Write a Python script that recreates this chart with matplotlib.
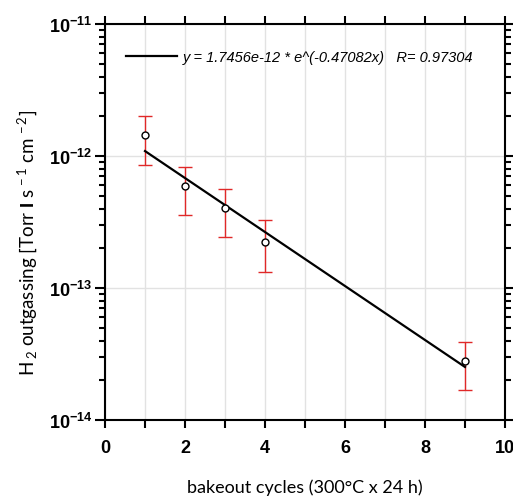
import numpy as np
import matplotlib.pyplot as plt
from matplotlib.ticker import FuncFormatter, LogLocator, MultipleLocator

plt.rcParams['mathtext.fontset'] = 'custom'
plt.rcParams['mathtext.rm'] = 'Lato'
plt.rcParams['mathtext.bf'] = 'Liberation Sans:bold'
plt.rcParams['mathtext.it'] = 'Liberation Sans:italic'

# measured points
cycles = [1, 2, 3, 4, 9]
outgas = [1.44e-12, 5.94e-13, 4.03e-13, 2.22e-13, 2.8e-14]
err_hi = [2.0e-12, 8.3e-13, 5.64e-13, 3.27e-13, 3.9e-14]
err_lo = [8.6e-13, 3.56e-13, 2.42e-13, 1.32e-13, 1.68e-14]

# exponential fit
fit_a = 1.7456e-12
fit_b = -0.47082
fit_r = 0.97304

fig = plt.figure(figsize=(5.13, 5.02), dpi=100)
ax = fig.add_axes([105 / 513, 1 - 421 / 502, 400 / 513, 396 / 502])

xf = np.linspace(cycles[0], cycles[-1], 50)
ax.plot(xf, fit_a * np.exp(fit_b * xf), color='black', lw=1.6, zorder=3,
        label='y = 1.7456e-12 * e^(-0.47082x)   R= %.5f' % fit_r)

yerr = [np.array(outgas) - np.array(err_lo), np.array(err_hi) - np.array(outgas)]
ax.errorbar(cycles, outgas, yerr=yerr, fmt='none', ecolor='#e02828', elinewidth=1,
            capsize=5, capthick=1, zorder=2)
ax.plot(cycles, outgas, 'o', mfc='white', mec='black', mew=1, ms=5, zorder=4)

ax.set_yscale('log')
ax.set_xlim(0, 10)
ax.set_ylim(1e-14, 1e-11)

ax.xaxis.set_major_locator(MultipleLocator(2))
ax.xaxis.set_minor_locator(MultipleLocator(1))
ax.yaxis.set_major_locator(LogLocator(base=10))
ax.yaxis.set_minor_locator(LogLocator(base=10, subs=np.arange(2, 10)))
ax.yaxis.set_major_formatter(FuncFormatter(lambda v, p: r'$\mathbf{10^{%d}}$' % round(np.log10(v))))
ax.yaxis.set_minor_formatter(FuncFormatter(lambda v, p: ''))

ax.tick_params(axis='x', which='both', direction='out', top=True, bottom=True,
               length=6, width=1.5, labelsize=13, pad=8)
ax.tick_params(axis='y', which='major', direction='out', left=True, right=True,
               length=7, width=1.5, labelsize=13, pad=2)
ax.tick_params(axis='y', which='minor', direction='out', left=True, right=True,
               length=4, width=1.5)
for lab in ax.get_xticklabels():
    lab.set_fontweight('bold')
    lab.set_family('Liberation Sans')

ax.xaxis.grid(True, which='both', color='#e2e2e2', lw=1)
ax.yaxis.grid(True, which='major', color='#e2e2e2', lw=1)
ax.set_axisbelow(True)
for s in ax.spines.values():
    s.set_linewidth(1.5)

ax.set_xlabel('bakeout cycles (300°C x 24 h)', family='Lato', fontsize=13, labelpad=16)
ax.set_ylabel(r'H$\,_{2}$ outgassing [Torr $\mathbf{l}$ s$^{\,-1}$ cm$^{\,-2}$]',
              family='Lato', fontsize=13.5)
ax.yaxis.set_label_coords(-0.165, 0.449)

leg = ax.legend(loc='upper left', bbox_to_anchor=(0.02, 0.968), frameon=False,
                handlelength=3.5, handletextpad=0.4,
                prop={'family': 'Liberation Sans', 'style': 'italic', 'size': 10.5})

fig.savefig('out.png', dpi=100)
